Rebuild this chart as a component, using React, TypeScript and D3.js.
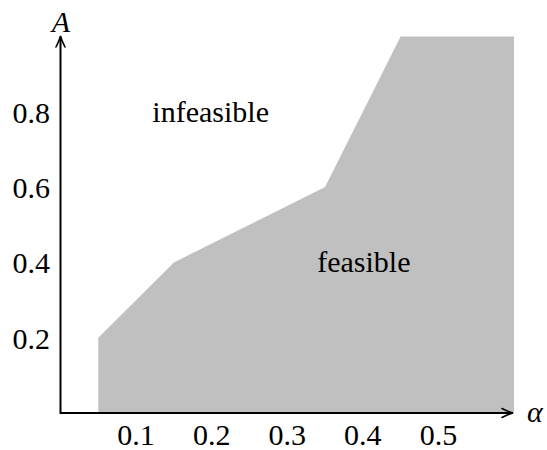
import React from "react";
import * as d3 from "d3";

const alphaVals = [0.05, 0.15, 0.35, 0.45, 0.6];
const aVals = [0.2, 0.4, 0.6, 1.0, 1.0];
const xTicks = [0.1, 0.2, 0.3, 0.4, 0.5];
const yTicks = [0.2, 0.4, 0.6, 0.8];
const regionLabels = [
  { text: "infeasible", alpha: 0.2, a: 0.8, dx: -1 },
  { text: "feasible", alpha: 0.4, a: 0.4, dx: 1 },
];

const W = 547;
const H = 450;
const FONT = "Liberation Serif";
const K = 30 / 28;

function T(props: { x: number; y: number; anchor?: string; italic?: boolean; children: React.ReactNode }) {
  return (
    <g transform={`translate(${props.x},${props.y}) scale(${K})`}>
      <text
        x={0}
        y={0}
        fontSize={28}
        textAnchor={props.anchor || "start"}
        fontStyle={props.italic ? "italic" : undefined}
        style={{ fontFamily: FONT }}
      >
        {props.children}
      </text>
    </g>
  );
}

export default function App() {
  const x = d3.scaleLinear().domain([0, 0.6]).range([60.5, 514]);
  const y = d3.scaleLinear().domain([0, 1]).range([413, 36.5]);

  const pts = alphaVals.map((a, i) => [a, aVals[i]] as [number, number]);
  const area = d3
    .area<[number, number]>()
    .x((d) => x(d[0]))
    .y0(y(0))
    .y1((d) => y(d[1]));

  const x0 = x(0);
  const y0 = y(0);
  const xTip = 513;
  const yTip = 36;

  const arrowUp = `M ${x0 - 4.5} ${yTip + 11} C ${x0 - 2} ${yTip + 6}, ${x0 - 0.5} ${yTip + 2}, ${x0} ${yTip} C ${x0 + 0.5} ${yTip + 2}, ${x0 + 2} ${yTip + 6}, ${x0 + 4.5} ${yTip + 11}`;
  const arrowRight = `M ${xTip - 11} ${y0 - 4.5} C ${xTip - 6} ${y0 - 2}, ${xTip - 2} ${y0 - 0.5}, ${xTip} ${y0} C ${xTip - 2} ${y0 + 0.5}, ${xTip - 6} ${y0 + 2}, ${xTip - 11} ${y0 + 4.5}`;

  return (
    <svg width={W} height={H} style={{ position: "absolute", left: 0, top: 0 }}>
      <path d={area(pts) || ""} fill="#c0c0c0" />
      <line x1={x0} y1={y0} x2={xTip - 1} y2={y0} stroke="#000" strokeWidth={2} />
      <line x1={x0} y1={y0 + 1} x2={x0} y2={yTip + 1} stroke="#000" strokeWidth={2} />
      <path d={arrowUp} fill="none" stroke="#000" strokeWidth={1.6} strokeLinecap="round" />
      <path d={arrowRight} fill="none" stroke="#000" strokeWidth={1.6} strokeLinecap="round" />
      {xTicks.map((t) => (
        <T key={"x" + t} x={x(t)} y={445} anchor="middle">
          {t.toFixed(1)}
        </T>
      ))}
      {yTicks.map((t) => (
        <T key={"y" + t} x={50} y={y(t) + 11} anchor="end">
          {t.toFixed(1)}
        </T>
      ))}
      <T x={61} y={32} anchor="middle" italic>
        A
      </T>
      <T x={527} y={422} italic>
        α
      </T>
      {regionLabels.map((r) => (
        <T key={r.text} x={x(r.alpha) + r.dx} y={y(r.a) + 10} anchor="middle">
          {r.text}
        </T>
      ))}
    </svg>
  );
}
